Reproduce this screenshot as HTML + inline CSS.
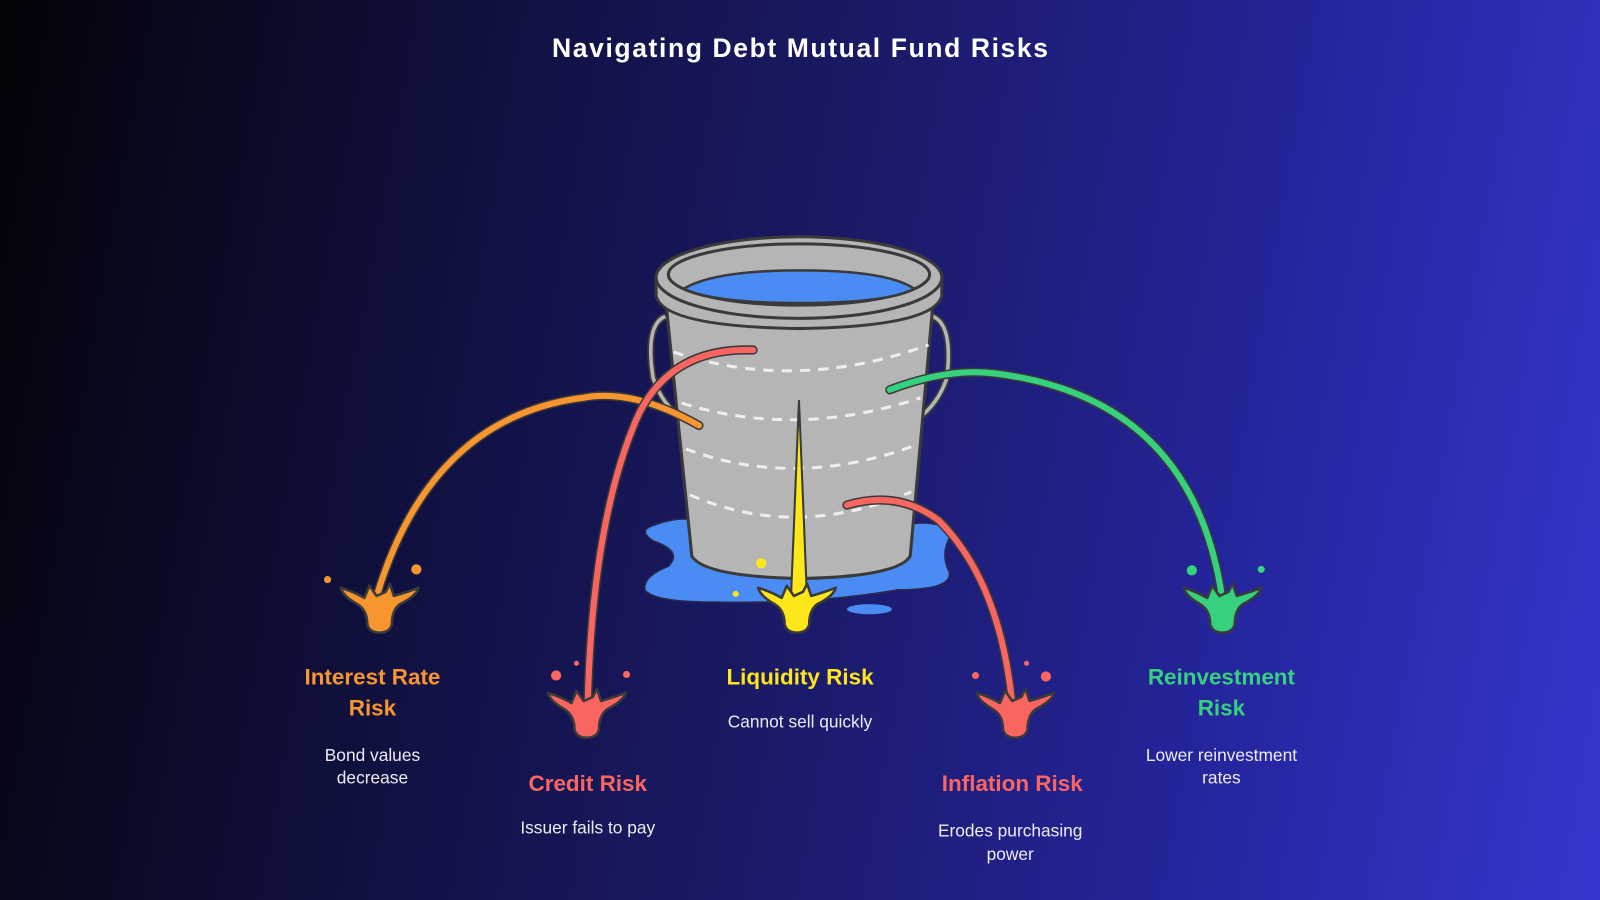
<!DOCTYPE html>
<html><head><meta charset="utf-8"><style>
html,body{margin:0;padding:0;width:1600px;height:900px;overflow:hidden}
body{background:linear-gradient(100deg,#030308 0%,#0f0f3a 25%,#1a1a66 50%,#24249a 75%,#3636cf 100%)}
svg{display:block}
text{font-family:"Liberation Sans",sans-serif;font-weight:bold;text-anchor:middle}
.d{font-weight:normal;fill:#ececf4;font-size:17px}
</style></head><body>
<svg width="1600" height="900" viewBox="0 0 1568 882">
<defs>
<path id="sp" d="M-38,-14 Q-25,-10 -15,-4 L-10,-16 L-3,-6 L6,-10 L10,-18 L14,-6 Q28,-10 38,-14 Q36,-6 20,2 Q12,8 12,22 Q10,30 0,30 Q-10,30 -12,22 Q-12,8 -22,2 Q-36,-6 -38,-14Z" stroke="#3a3a3a" stroke-width="2.5" stroke-linejoin="round"/>
</defs>
<text x="784" y="56" font-size="26" fill="#fff" textLength="486">Navigating Debt Mutual Fund Risks</text>

<!-- puddle -->
<path d="M640,515 Q680,500 700,520 L870,520 Q905,505 935,520 Q920,540 930,560 Q935,578 880,578 Q800,592 700,590 Q640,590 632,578 Q630,565 655,555 Q670,540 640,530 Q625,520 640,515Z" fill="#4a8cf4" stroke="#2a2a50" stroke-width="1.5"/>
<ellipse cx="852" cy="597" rx="22" ry="5" fill="#4a8cf4"/>

<!-- handles -->
<path d="M652,310 Q632,318 640,370 Q648,395 668,410" fill="none" stroke="#3a3a3a" stroke-width="7"/>
<path d="M652,310 Q632,318 640,370 Q648,395 668,410" fill="none" stroke="#b5b5b5" stroke-width="3.5"/>
<path d="M914,310 Q934,318 928,370 Q920,395 900,410" fill="none" stroke="#3a3a3a" stroke-width="7"/>
<path d="M914,310 Q934,318 928,370 Q920,395 900,410" fill="none" stroke="#b5b5b5" stroke-width="3.5"/>
<!-- body -->
<path d="M652,290 L915,290 L892,545 Q880,565 785,567 Q690,565 678,545Z" fill="#b5b5b5" stroke="#3a3a3a" stroke-width="3"/>
<g fill="none" stroke="#eee" stroke-width="3" stroke-dasharray="10,8">
<path d="M660,345 Q780,385 910,338"/>
<path d="M668,395 Q780,430 902,390"/>
<path d="M672,440 Q780,480 898,436"/>
<path d="M676,485 Q780,530 893,482"/>
</g>
<!-- rim -->
<path d="M643,275 L643,290 Q650,320 783,322 Q915,320 923,290 L923,275" fill="#b5b5b5" stroke="#3a3a3a" stroke-width="3"/>
<ellipse cx="783" cy="272" rx="140" ry="40" fill="#b5b5b5" stroke="#3a3a3a" stroke-width="3"/>
<ellipse cx="783" cy="269" rx="128" ry="30" fill="#b5b5b5" stroke="#3a3a3a" stroke-width="3"/>
<path d="M670,283 Q700,265 783,265 Q870,265 896,283 Q870,297 783,297 Q700,297 670,283Z" fill="#4a8cf4" stroke="#3a3a3a" stroke-width="2.5"/>

<!-- streams -->
<g fill="none" stroke-linecap="round">
<path d="M685,417 Q620,380 570,390 Q420,410 368,588" stroke="#3a3a3a" stroke-width="9"/>
<path d="M685,417 Q620,380 570,390 Q420,410 368,588" stroke="#f7952f" stroke-width="6"/>
<path d="M738,343 Q650,340 620,420 Q580,520 576,690" stroke="#3a3a3a" stroke-width="9"/>
<path d="M738,343 Q650,340 620,420 Q580,520 576,690" stroke="#f96662" stroke-width="6"/>
<path d="M872,382 Q930,360 975,366 Q1170,390 1198,588" stroke="#3a3a3a" stroke-width="9"/>
<path d="M872,382 Q930,360 975,366 Q1170,390 1198,588" stroke="#36d17e" stroke-width="6"/>
<path d="M830,495 Q880,480 920,510 Q980,570 992,690" stroke="#3a3a3a" stroke-width="9"/>
<path d="M830,495 Q880,480 920,510 Q980,570 992,690" stroke="#f96662" stroke-width="6"/>
</g>
<path d="M783,392 L791,590 L775,590Z" fill="#fde61a" stroke="#3a3a3a" stroke-width="2"/>

<!-- splashes -->
<g fill="#f7952f"><use href="#sp" transform="translate(372,590)"/><circle cx="408" cy="558" r="5"/><circle cx="321" cy="568" r="3.5"/></g>
<g fill="#f96662"><use href="#sp" transform="translate(575,693)"/><circle cx="545" cy="662" r="5"/><circle cx="614" cy="661" r="3.5"/><circle cx="565" cy="650" r="2.5"/></g>
<g fill="#fde61a"><use href="#sp" transform="translate(781,590)"/><circle cx="746" cy="552" r="5"/><circle cx="721" cy="582" r="3"/></g>
<g fill="#f96662"><use href="#sp" transform="translate(995,693)"/><circle cx="956" cy="662" r="3.5"/><circle cx="1025" cy="663" r="5"/><circle cx="1006" cy="650" r="2.5"/></g>
<g fill="#36d17e"><use href="#sp" transform="translate(1198,590)"/><circle cx="1168" cy="559" r="5"/><circle cx="1236" cy="558" r="3.5"/></g>

<!-- labels -->
<g font-size="22">
<text x="365" y="671" fill="#f7952f">Interest Rate</text><text x="365" y="701" fill="#f7952f">Risk</text>
<text x="576" y="775" fill="#f96662">Credit Risk</text>
<text x="784" y="671" fill="#fde61a">Liquidity Risk</text>
<text x="992" y="775" fill="#f96662">Inflation Risk</text>
<text x="1197" y="671" fill="#36d17e">Reinvestment</text><text x="1197" y="701" fill="#36d17e">Risk</text>
</g>
<text class="d" x="365" y="746">Bond values</text><text class="d" x="365" y="768">decrease</text>
<text class="d" x="576" y="817">Issuer fails to pay</text>
<text class="d" x="784" y="713">Cannot sell quickly</text>
<text class="d" x="990" y="820">Erodes purchasing</text><text class="d" x="990" y="843">power</text>
<text class="d" x="1197" y="746">Lower reinvestment</text><text class="d" x="1197" y="768">rates</text>
</svg>
</body></html>
